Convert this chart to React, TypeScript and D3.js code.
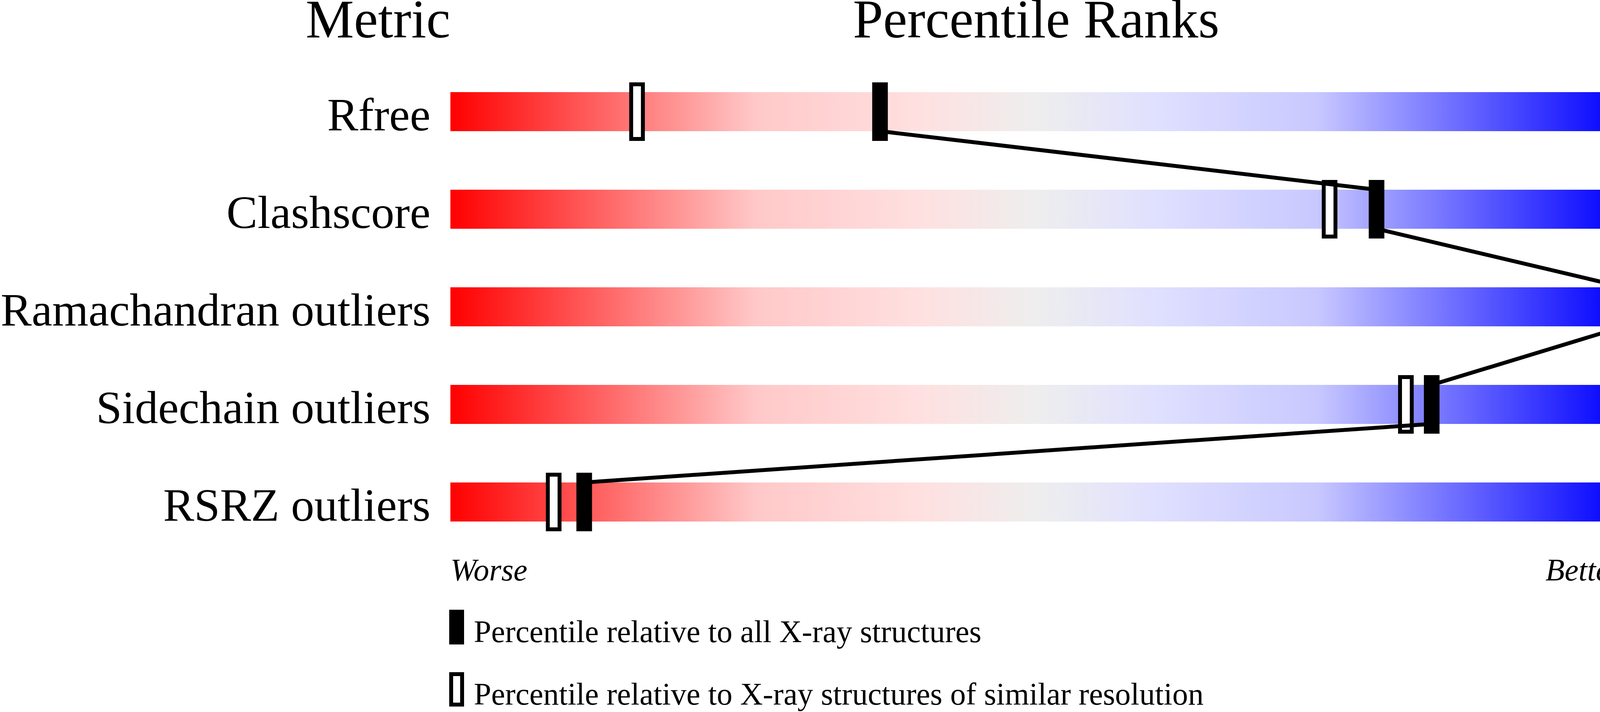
import React from "react";
import * as d3 from "d3";

// Validation metrics, their values and the two percentile ranks
const metrics = [
  "Rfree",
  "Clashscore",
  "Ramachandran outliers",
  "Sidechain outliers",
  "RSRZ outliers",
];
const metricValues = ["0.247", "3", "0", "0.7%", "8.2%"];
const pctAll = [36.6, 78.9, 100, 83.6, 11.4];
const pctSimilar = [15.9, 74.9, 100, 81.4, 8.8];

const headers = {metric: "Metric", ranks: "Percentile Ranks", value: "Value"};
const legendLabels = [
  "Percentile relative to all X-ray structures",
  "Percentile relative to X-ray structures of similar resolution",
];

const gradientStops = [
  {offset: 0, color: "#ff0000"},
  {offset: 0.26, color: "#ffc8c8"},
  {offset: 0.4, color: "#ffe0e0"},
  {offset: 0.5, color: "#eeeeee"},
  {offset: 0.6, color: "#e0e0ff"},
  {offset: 0.74, color: "#c8c8ff"},
  {offset: 1, color: "#0000ff"},
];

const W = 4485;
const H = 1824;
const barLeft = 1153;
const barRight = 4152;
const barH = 100;
const markW = 40;
const markH = 150;
const font = "'Liberation Serif', 'Times New Roman', serif";

export default function App() {
  const x = d3.scaleLinear().domain([0, 100]).range([barLeft, barRight + 6]);
  const y = d3.scalePoint().domain(metrics).range([286, 1286]);

  // line runs down through each filled marker, then on to the next row's top
  const linePts: [number, number][] = [];
  metrics.forEach((m, i) => {
    linePts.push([x(pctAll[i]), y(m)! - barH / 2]);
    linePts.push([x(pctAll[i]), y(m)! + barH / 2]);
  });
  const line = d3.line();

  return (
    <svg
      width={W}
      height={H}
      style={{position: "absolute", left: 0, top: 0, background: "#fff"}}
      fontFamily={font}
    >
      <defs>
        <linearGradient id="rank-grad" x1="0" x2="1" y1="0" y2="0">
          {gradientStops.map((s) => (
            <stop key={s.offset} offset={s.offset} stopColor={s.color} />
          ))}
        </linearGradient>
      </defs>

      {/* headers */}
      <text x={barLeft} y={96} fontSize={139} textAnchor="end">
        {headers.metric}
      </text>
      <text x={(barLeft + barRight) / 2} y={96} fontSize={139} textAnchor="middle">
        {headers.ranks}
      </text>
      <text x={barRight + 2} y={96} fontSize={139}>
        {headers.value}
      </text>

      {/* rows */}
      {metrics.map((m, i) => (
        <g key={m}>
          <rect
            x={barLeft}
            y={y(m)! - barH / 2}
            width={barRight - barLeft}
            height={barH}
            fill="url(#rank-grad)"
          />
          <text x={1102} y={y(m)! + 48} fontSize={119} textAnchor="end">
            {m}
          </text>
          <text x={4205} y={y(m)! + 48} fontSize={119}>
            {metricValues[i]}
          </text>
        </g>
      ))}

      {/* hollow markers: similar resolution */}
      {metrics.map((m, i) => (
        <rect
          key={"h" + m}
          x={x(pctSimilar[i]) - markW / 2 + 5}
          y={y(m)! - markH / 2 + 5}
          width={markW - 10}
          height={markH - 10}
          fill="#fff"
          stroke="#000"
          strokeWidth={10}
        />
      ))}

      <path d={line(linePts)!} fill="none" stroke="#000" strokeWidth={10} />

      {/* filled markers: all structures */}
      {metrics.map((m, i) => (
        <rect
          key={"f" + m}
          x={x(pctAll[i]) - markW / 2}
          y={y(m)! - markH / 2}
          width={markW}
          height={markH}
          fill="#000"
        />
      ))}

      <text x={barLeft} y={1487} fontSize={80} fontStyle="italic">
        Worse
      </text>
      <text x={barRight} y={1487} fontSize={80} fontStyle="italic" textAnchor="end">
        Better
      </text>

      {/* legend */}
      <rect x={1150} y={1562} width={38} height={89} fill="#000" />
      <text x={1213} y={1645} fontSize={80}>
        {legendLabels[0]}
      </text>
      <rect
        x={1155}
        y={1727}
        width={28}
        height={78}
        fill="#fff"
        stroke="#000"
        strokeWidth={10}
      />
      <text x={1213} y={1805} fontSize={80}>
        {legendLabels[1]}
      </text>
    </svg>
  );
}
